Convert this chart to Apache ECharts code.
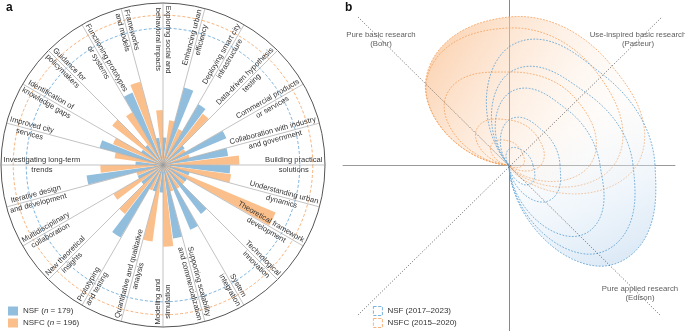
<!DOCTYPE html>
<html><head><meta charset="utf-8">
<script src="https://cdn.jsdelivr.net/npm/echarts@6/dist/echarts.min.js"></script>
<style>html,body{margin:0;padding:0;background:#fff}#c{width:685px;height:331px}</style>
</head><body><div id="c"></div>
<script>
// ---------- Panel a data (categories listed counter-clockwise from 3 o'clock) ----------
const categories = [
  'Building practical\nsolutions',
  'Collaboration with industry\nand government',
  'Commercial products\nor services',
  'Data-driven hypothesis\ntesting',
  'Deploying smart city\ninfrastructure',
  'Enhancing urban\nefficiency',
  'Exploring social and\nbehavioral impacts',
  'Frameworks\nand models',
  'Functioning prototypes\nor systems',
  'Guidance for\npolicymakers',
  'Identification of\nknowledge gaps',
  'Improved city\nservices',
  'Investigating long-term\ntrends',
  'Iterative design\nand development',
  'Multidisciplinary\ncollaboration',
  'New theoretical\ninsights',
  'Prototyping\nand testing',
  'Quantitative and qualitative\nanalysis',
  'Modeling and\nsimulation',
  'Supporting scalability\nand commercialization',
  'System\nintegration',
  'Technological\ninnovation',
  'Theoretical framework\ndevelopment',
  'Understanding urban\ndynamics'
];
const nsfValues  = [88, 86, 90, 36, 92, 105, 36, 36, 103, 33, 33, 86, 36, 101, 36, 36, 110, 36, 36, 97, 92, 81, 36, 36];
const nsfcValues = [100, 36, 34, 85, 51, 59, 72, 113, 80, 84, 71, 64, 82, 36, 75, 81, 36, 101, 107, 36, 36, 36, 160, 90];
const sampleSizeLabels = ['NSF', 'NSFC'];
const sampleSizes = [179, 196];

// ---------- Panel b data: profile of each petal along the five research directions ----------
// applied (0°), use-inspired/Pasteur (45°), basic (90°), Bohr (135°), Edison (315°)
const nsfcApplied  = [128, 105, 81, 32, 14];
const nsfcPasteur  = [143, 127, 94, 40, 18];
const nsfcBasic    = [148, 137, 93, 45, 24];
const nsfcBohr     = [118, 117, 91, 47, 26];
const nsfcEdison   = [22, 12, 6, 0, 0];
const nsfApplied   = [146, 124, 91, 51, 24];
const nsfPasteur   = [130, 105, 80, 48, 20];
const nsfBasic     = [118, 92, 72, 45, 16];
const nsfBohr      = [0, 0, 0, 0, 0];
const nsfEdison    = [142, 125, 100, 52, 28];
const quadrantLabels = ['Pure basic research\n(Bohr)', 'Use-inspired basic research\n(Pasteur)', 'Pure applied research\n(Edison)'];
const quadrantLabelX = [-128, 129, 131];
const quadrantLabelY = [126, 126, -128];
const diagonalA = [[-151, 148], [151, -150]];
const diagonalB = [[-151, -150], [153, 148]];

const BLUE = '#92bedd', ORANGE = '#fbbf8b';
const BLUE_LINE = '#5b9fd3', ORANGE_LINE = '#f5a05a';
const FONT = 'Liberation Sans';
const FS = 7.6;

const measureCtx = document.createElement('canvas').getContext('2d');
measureCtx.font = FS + 'px "' + FONT + '"';
function textWidth(t) { return Math.max.apply(null, t.split('\n').map(s => measureCtx.measureText(s).width)); }

const slots = [];
categories.forEach((c, i) => { slots.push('nsf' + i); slots.push('nsfc' + i); });
const nsfSlotData = slots.map((s, i) => i % 2 === 0 ? nsfValues[i / 2] : '-');
const nsfcSlotData = slots.map((s, i) => i % 2 === 1 ? nsfcValues[(i - 1) / 2] : '-');

// closed smooth profile through 8 compass directions (periodic Catmull-Rom on radius)
function profilePoints(api, r8) {
  const pts = [], n = 8, steps = 24;
  for (let i = 0; i < n; i++) {
    const P0 = r8[(i + n - 1) % n], P1 = r8[i], P2 = r8[(i + 1) % n], P3 = r8[(i + 2) % n];
    for (let s = 0; s < steps; s++) {
      const t = s / steps;
      let r = 0.5 * (2 * P1 + (-P0 + P2) * t + (2 * P0 - 5 * P1 + 4 * P2 - P3) * t * t + (-P0 + 3 * P1 - 3 * P2 + P3) * t * t * t);
      if (r < 0) r = 0;
      const th = (i + t) * Math.PI / 4;
      pts.push(api.coord([r * Math.cos(th), r * Math.sin(th)]));
    }
  }
  return pts;
}
function petalSeries(name, cols, lineColor, fills, z) {
  return {
    type: 'custom', name: name, coordinateSystem: 'cartesian2d', silent: true,
    data: cols[0].map((v, i) => cols.map(c => c[i])),
    renderItem: function (params, api) {
      const a = api.value(0), p = api.value(1), b = api.value(2), bo = api.value(3), e = api.value(4);
      const pts = profilePoints(api, [a, p, b, bo, 0, 0, 0, e]);
      return { type: 'polygon', shape: { points: pts },
        style: { fill: fills[params.dataIndex] || 'none', stroke: lineColor, lineWidth: 0.8, lineDash: [1.8, 1.4] } };
    },
    z: z
  };
}
function lin(x, y, x2, y2, c0, c1, o1) {
  return { type: 'linear', x: x, y: y, x2: x2, y2: y2, colorStops: [{ offset: 0, color: c0 }, { offset: o1, color: c1 }, { offset: 1, color: c1 }] };
}

const chart = echarts.init(document.getElementById('c'), null, { renderer: 'canvas' });
chart.setOption({
  animation: false,
  textStyle: { fontFamily: FONT },
  title: [
    { text: 'a', left: 1, top: -3, textStyle: { fontSize: 12, fontWeight: 'bold', color: '#111' } },
    { text: 'b', left: 340, top: -3, textStyle: { fontSize: 12, fontWeight: 'bold', color: '#111' } }
  ],
  legend: [
    { data: ['NSF', 'NSFC'], orient: 'vertical', left: 8, bottom: 3, itemWidth: 10, itemHeight: 9, itemGap: 2,
      icon: 'rect', selectedMode: false, padding: 0,
      formatter: n => n + ' ({i|n} = ' + sampleSizes[sampleSizeLabels.indexOf(n)] + ')',
      textStyle: { fontSize: 8, color: '#333', lineHeight: 10, rich: { i: { fontStyle: 'italic', fontSize: 8, color: '#333' } } } },
    { data: [
        { name: 'NSF (2017–2023)', itemStyle: { color: '#fff', borderColor: BLUE_LINE, borderWidth: 0.8, borderType: 'dashed' } },
        { name: 'NSFC (2015–2020)', itemStyle: { color: '#fff', borderColor: ORANGE_LINE, borderWidth: 0.8, borderType: 'dashed' } }
      ], orient: 'vertical', left: 373, bottom: 3, itemWidth: 9, itemHeight: 9, itemGap: 2, icon: 'rect', selectedMode: false, padding: 0,
      textStyle: { fontSize: 8, color: '#333', lineHeight: 10 } }
  ],
  polar: { center: [163, 165], radius: 162 },
  angleAxis: { type: 'category', data: slots, startAngle: 352.5, clockwise: false, boundaryGap: true,
    axisLine: { show: true, lineStyle: { color: '#555', width: 1 } }, axisTick: { show: false },
    axisLabel: { show: false }, splitLine: { show: false } },
  radiusAxis: { type: 'value', min: 0, max: 212, axisLine: { show: false }, axisTick: { show: false },
    axisLabel: { show: false }, splitLine: { show: false } },
  grid: { left: 343, right: 10, top: 0, bottom: 0 },
  xAxis: { type: 'value', min: -166, max: 166, axisLine: { onZero: true, lineStyle: { color: '#999', width: 1 } },
    axisTick: { show: false }, axisLabel: { show: false }, splitLine: { show: false } },
  yAxis: { type: 'value', min: -166, max: 165, axisLine: { onZero: true, lineStyle: { color: '#888', width: 1 } },
    axisTick: { show: false }, axisLabel: { show: false }, splitLine: { show: false } },
  series: [
    { type: 'bar', name: 'NSF', coordinateSystem: 'polar', data: nsfSlotData, barGap: '-100%', barCategoryGap: '8%',
      itemStyle: { color: BLUE }, z: 2 },
    { type: 'bar', name: 'NSFC', coordinateSystem: 'polar', data: nsfcSlotData, barGap: '-100%', barCategoryGap: '8%',
      itemStyle: { color: ORANGE }, z: 2 },
    { type: 'custom', coordinateSystem: 'polar', silent: true,
      data: sampleSizes.map(v => [v, 0]),
      renderItem: function (params, api) {
        const cs = params.coordSys; const p = api.coord([api.value(0), api.value(1)]);
        const r = Math.hypot(p[0] - cs.cx, p[1] - cs.cy);
        return { type: 'circle', shape: { cx: cs.cx, cy: cs.cy, r: r },
          style: { fill: 'none', stroke: params.dataIndex === 0 ? BLUE_LINE : ORANGE_LINE, lineWidth: 0.8, lineDash: [3, 2] } };
      }, z: 1 },
    { type: 'custom', coordinateSystem: 'polar', silent: true,
      data: categories.map((c, i) => [212, 2 * i]),
      renderItem: function (params, api) {
        const cs = params.coordSys; const i = params.dataIndex;
        const p1 = api.coord([api.value(0), 2 * i]), p2 = api.coord([api.value(0), 2 * i + 1]);
        let ux = (p1[0] - cs.cx) + (p2[0] - cs.cx), uy = (p1[1] - cs.cy) + (p2[1] - cs.cy);
        const n = Math.hypot(ux, uy); ux /= n; uy /= n;
        const phi = Math.atan2(-uy, ux);
        let deg = phi * 180 / Math.PI; if (deg < 0) deg += 360;
        const left = deg >= 89.9 && deg <= 270.1;
        const rot = left ? phi - Math.PI : phi;
        const txt = categories[i];
        const w = textWidth(txt);
        const rt = cs.r - 2.5 - w / 2;
        return { type: 'group', children: [
          { type: 'line', shape: { x1: cs.cx, y1: cs.cy, x2: cs.cx + ux * cs.r, y2: cs.cy + uy * cs.r },
            style: { stroke: '#9a9a9a', lineWidth: 0.6 } },
          { type: 'text', x: cs.cx + ux * rt, y: cs.cy + uy * rt, rotation: rot,
            style: { text: txt, fontSize: FS, fontFamily: FONT, fill: '#333', align: 'center', verticalAlign: 'middle', lineHeight: 9.5 } }
        ] };
      }, z: 4 },
    // panel b
    petalSeries('NSFC (2015–2020)', [nsfcApplied, nsfcPasteur, nsfcBasic, nsfcBohr, nsfcEdison], ORANGE_LINE,
      [lin(0, 0.2, 0.75, 0.75, 'rgba(250,192,145,0.7)', 'rgba(253,235,220,0.12)', 1)], 3),
    petalSeries('NSF (2017–2023)', [nsfApplied, nsfPasteur, nsfBasic, nsfBohr, nsfEdison], BLUE_LINE,
      [lin(0.9, 1, 0.5, 0.35, 'rgba(208,226,243,0.85)', 'rgba(235,243,250,0)', 1)], 3),
    { type: 'line', data: diagonalA, symbol: 'none', lineStyle: { color: '#444', width: 0.7, type: [1.2, 1.6] }, z: 5, silent: true },
    { type: 'line', data: diagonalB, symbol: 'none', lineStyle: { color: '#444', width: 0.7, type: [1.2, 1.6] }, z: 5, silent: true },
    { type: 'scatter', symbolSize: 0, silent: true, z: 6,
      data: quadrantLabels.map((t, i) => ({ value: [quadrantLabelX[i], quadrantLabelY[i]], name: t })),
      label: { show: true, position: 'inside', formatter: p => p.name, fontSize: 7.8, color: '#333', lineHeight: 9, align: 'center' } }
  ]
});
</script></body></html>
